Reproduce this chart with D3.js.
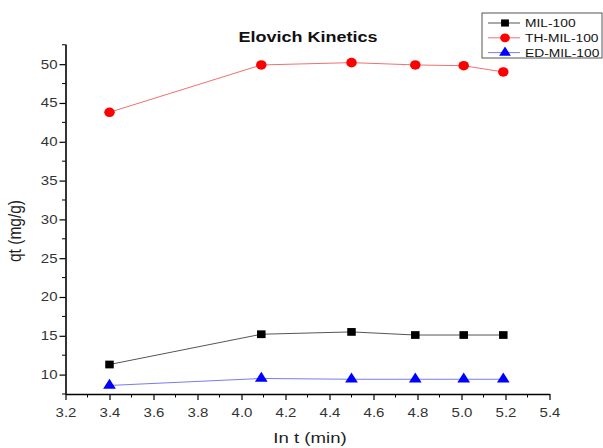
<!DOCTYPE html>
<html>
<head>
<meta charset="utf-8">
<script src="https://cdn.jsdelivr.net/npm/d3@7"></script>
<style>
  body { margin: 0; background: #fff; }
  svg { display: block; font-family: "Liberation Sans", Arial, sans-serif; }
</style>
</head>
<body>
<div id="chart"></div>
<script>
(function(){
  // ln t values (ln 30, 60, 90, 120, 150, 180)
  const lnT = [3.40, 4.09, 4.50, 4.79, 5.01, 5.19];
  const mil100 = [11.3, 15.2, 15.5, 15.1, 15.1, 15.1];
  const thMil100 = [43.8, 49.9, 50.2, 49.9, 49.8, 49.0];
  const edMil100 = [8.6, 9.5, 9.4, 9.4, 9.4, 9.4];
  const seriesNames = ["MIL-100", "TH-MIL-100", "ED-MIL-100"];
  const xTicks = [3.2, 3.4, 3.6, 3.8, 4.0, 4.2, 4.4, 4.6, 4.8, 5.0, 5.2, 5.4];
  const yTicks = [10, 15, 20, 25, 30, 35, 40, 45, 50];

  const width = 603;
  const height = 448;
  const stretch = 1.2; // the original picture is a little wide, text too

  const series = [
    { name: seriesNames[0], values: mil100, line: "#555", fill: "#000", shape: d3.symbolSquare, size: 60 },
    { name: seriesNames[1], values: thMil100, line: "#f07070", fill: "#f00", shape: d3.symbolCircle, size: 72 },
    { name: seriesNames[2], values: edMil100, line: "#7b7bf0", fill: "#00f", shape: d3.symbolTriangle, size: 58 }
  ];

  const svg = d3.select("#chart")
    .append("svg")
    .attr("width", width)
    .attr("height", height);

  const x = d3.scaleLinear()
    .domain([3.2, 5.4])
    .range([65.5, 549.5]);

  const y = d3.scaleLinear()
    .domain([7.5, 52.6])
    .range([394, 44]);

  // minor ticks
  const xMinor = d3.range(3.3, 5.4, 0.2);
  const yMinor = d3.range(7.5, 52.6, 5);

  const xAxis = svg.append("g")
    .attr("transform", `translate(0,${y(7.5)})`)
    .call(d3.axisBottom(x).tickValues(xTicks).tickFormat(d3.format(".1f")).tickSize(6).tickSizeOuter(0));

  xAxis.selectAll(".minor")
    .data(xMinor)
    .enter().append("line")
    .attr("x1", d => x(d)).attr("x2", d => x(d))
    .attr("y1", 0).attr("y2", 3.5)
    .attr("stroke", "#000");

  const yAxis = svg.append("g")
    .attr("transform", `translate(${x(3.2)},0)`)
    .call(d3.axisLeft(y).tickValues(yTicks).tickSize(6).tickSizeOuter(0));

  yAxis.selectAll(".minor")
    .data(yMinor)
    .enter().append("line")
    .attr("x1", 0).attr("x2", -3.5)
    .attr("y1", d => y(d)).attr("y2", d => y(d))
    .attr("stroke", "#000");

  svg.selectAll(".domain").attr("stroke", "#000").attr("stroke-width", 1.6);
  svg.selectAll(".tick line").attr("stroke", "#000").attr("stroke-width", 1.2);
  svg.selectAll(".tick text")
    .attr("font-size", 12.5)
    .attr("font-family", "'Liberation Sans', Arial, sans-serif")
    .attr("fill", "#333")
    .attr("transform", `scale(${stretch},1)`);
  xAxis.selectAll(".tick text").attr("dy", "1.15em");
  yAxis.selectAll(".tick text").attr("x", -8 / stretch);

  // series lines + markers
  const line = d3.line()
    .x((d, i) => x(lnT[i]))
    .y(d => y(d));

  series.forEach(s => {
    svg.append("path")
      .datum(s.values)
      .attr("d", line)
      .attr("fill", "none")
      .attr("stroke", s.line)
      .attr("stroke-width", 1);

    svg.selectAll(null)
      .data(s.values)
      .enter().append("path")
      .attr("d", d3.symbol().type(s.shape).size(s.size))
      .attr("transform", (d, i) => `translate(${x(lnT[i])},${y(d)}) scale(1.1,1)`)
      .attr("fill", s.fill);
  });

  // title
  svg.append("text")
    .attr("transform", `translate(308,42) scale(${stretch},1)`)
    .attr("text-anchor", "middle")
    .attr("font-size", 15)
    .attr("font-weight", "bold")
    .attr("fill", "#111")
    .text("Elovich Kinetics");

  // axis labels
  svg.append("text")
    .attr("transform", `translate(310,443) scale(${stretch},1)`)
    .attr("text-anchor", "middle")
    .attr("font-size", 15.5)
    .attr("fill", "#222")
    .text("In t (min)");

  svg.append("text")
    .attr("transform", `translate(21,231) rotate(-90) scale(1,${stretch})`)
    .attr("text-anchor", "middle")
    .attr("font-size", 15.5)
    .attr("fill", "#222")
    .text("qt (mg/g)");

  // legend
  const legend = svg.append("g")
    .attr("class", "legend")
    .attr("transform", "translate(482,13)");

  legend.append("rect")
    .attr("width", 120)
    .attr("height", 45)
    .attr("fill", "#fff")
    .attr("stroke", "#555")
    .attr("stroke-width", 1);

  const legendItems = legend.selectAll(".legend-item")
    .data(series)
    .enter().append("g")
    .attr("class", "legend-item")
    .attr("transform", (d, i) => `translate(0,${10 + i * 14.8})`);

  legendItems.append("line")
    .attr("x1", 6).attr("x2", 38)
    .attr("stroke", d => d.line)
    .attr("stroke-width", 1);

  legendItems.append("path")
    .attr("d", d => d3.symbol().type(d.shape).size(d.size * 0.85)())
    .attr("transform", `translate(23,0) scale(1.1,1)`)
    .attr("fill", d => d.fill);

  legendItems.append("text")
    .attr("transform", `translate(43,0) scale(${stretch},1)`)
    .attr("dy", "0.36em")
    .attr("font-size", 11.5)
    .attr("fill", "#111")
    .text(d => d.name);
})();
</script>
</body>
</html>
